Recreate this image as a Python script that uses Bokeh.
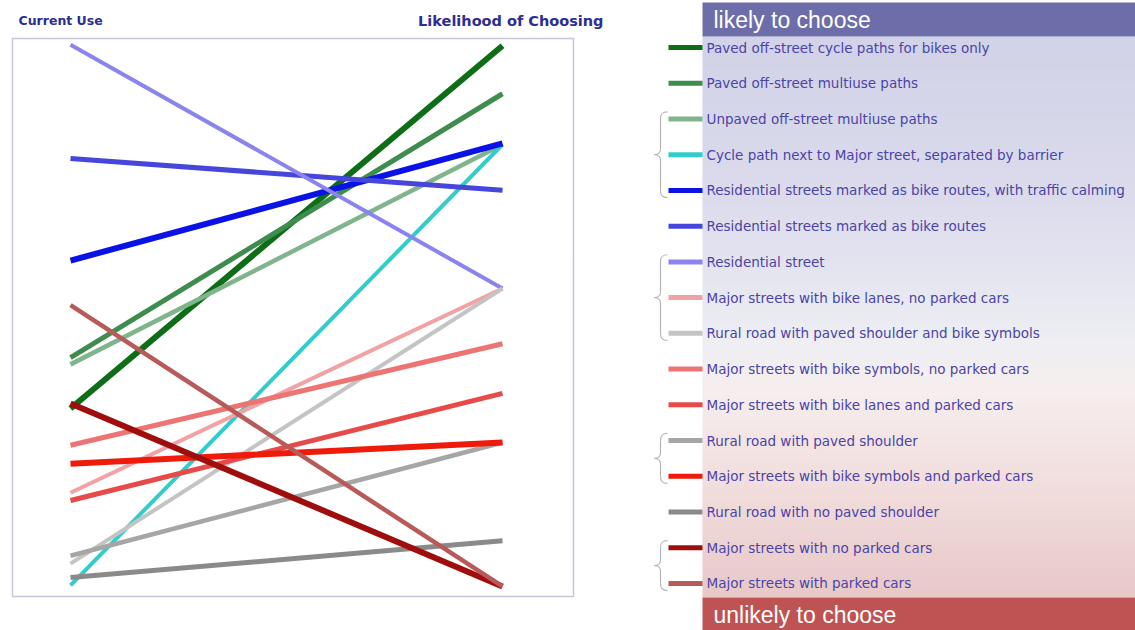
from bokeh.plotting import figure
from bokeh.models import Range1d, ColumnDataSource
from bokeh.layouts import row
from bokeh.embed import file_html
from bokeh.resources import INLINE
from bokeh.core.properties import value
import numpy as np

# ---------------- data ----------------
labels = [
    "Paved off-street cycle paths for bikes only",
    "Paved off-street multiuse paths",
    "Unpaved off-street multiuse paths",
    "Cycle path next to Major street, separated by barrier",
    "Residential streets marked as bike routes, with traffic calming",
    "Residential streets marked as bike routes",
    "Residential street",
    "Major streets with bike lanes, no parked cars",
    "Rural road with paved shoulder and bike symbols",
    "Major streets with bike symbols, no parked cars",
    "Major streets with bike lanes and parked cars",
    "Rural road with paved shoulder",
    "Major streets with bike symbols and parked cars",
    "Rural road with no paved shoulder",
    "Major streets with no parked cars",
    "Major streets with parked cars",
]
current_use = [33.7, 42.8, 41.6, 2.0, 60.2, 78.5, 98.9, 18.6,
               5.9, 27.1, 17.2, 7.3, 23.8, 3.4, 34.6, 52.2]
likelihood = [98.7, 90.1, 81.0, 81.0, 81.2, 72.8, 55.2, 55.2,
              55.2, 45.3, 36.4, 27.6, 27.6, 10.0, 1.8, 1.8]
colors = ["#0d6e17", "#3f8c4f", "#80b48c", "#33cccc", "#0a12e6", "#4646dc",
          "#8c84ee", "#f2a2a2", "#c4c4c4", "#ee7474", "#e84a4a", "#a6a6a6",
          "#ee1a0a", "#8a8a8a", "#a00d0d", "#b85a5a"]
widths = [6, 5, 4.5, 4, 6, 5, 4, 4, 4, 5, 5, 4.5, 6, 5, 6, 4.5]
groups = [(2, 4), (6, 8), (11, 12), (14, 15)]
axis_titles = ["Current Use", "Likelihood of Choosing"]
header_titles = ["likely to choose", "unlikely to choose"]

# ---------------- slope chart ----------------
W1, H = 640, 630
XPX = 432.0     # pixels per x unit (0 -> left column, 1 -> right column)
YPX = 5.58      # pixels per y unit
p1 = figure(width=W1, height=H, x_range=Range1d(-70 / XPX, (W1 - 70) / XPX),
            y_range=Range1d((596 - H) / YPX, 596 / YPX), toolbar_location=None,
            output_backend="svg", x_axis_location=None, y_axis_location=None,
            min_border=0)
p1.grid.visible = False
p1.outline_line_color = None
p1.background_fill_color = "white"
p1.border_fill_color = "white"

# chart box
p1.quad(left=[(12 - 70) / XPX], right=[(573 - 70) / XPX], bottom=[0], top=[100],
        fill_color=None, line_color="#c6c6d8", line_width=1.5)

src = ColumnDataSource(dict(
    xs=[[0, 1] for _ in labels],
    ys=[[c, l] for c, l in zip(current_use, likelihood)],
    color=colors, width=widths))
p1.multi_line(xs="xs", ys="ys", line_color="color", line_width="width",
              line_cap="butt", source=src)

p1.text(x=[(18 - 70) / XPX], y=[(596 - 20) / YPX], text=[axis_titles[0]],
        text_font=value("DejaVu Sans"), text_font_style="bold",
        text_font_size="12.5px", text_color="#2d2d96", text_baseline="middle",
        text_align="left")
p1.text(x=[(603 - 70) / XPX], y=[(596 - 20) / YPX], text=[axis_titles[1]],
        text_font=value("DejaVu Sans"), text_font_style="bold",
        text_font_size="14.5px", text_color="#2d2d96", text_baseline="middle",
        text_align="right")

# ---------------- legend panel ----------------
ROW0, ROWSTEP = 47.0, 35.73
W2 = 1135 - W1


def yi(py):
    return (py - ROW0) / ROWSTEP


p2 = figure(width=W2, height=H, x_range=Range1d(W1, W1 + W2),
            y_range=Range1d(yi(H), yi(0)), toolbar_location=None,
            output_backend="svg", x_axis_location=None, y_axis_location=None,
            min_border=0)
p2.grid.visible = False
p2.outline_line_color = None
p2.background_fill_color = "white"
p2.border_fill_color = "white"

# gradient background
stops_y = [36, 200, 340, 390, 500, 597]
stops_c = [(210, 210, 232), (220, 220, 237), (238, 238, 244), (247, 238, 238),
           (241, 219, 219), (233, 200, 200)]
ys = np.arange(36, 597, 3)
tops, bots, cols = [], [], []
for py in ys:
    r = np.interp(py + 1.5, stops_y, [c[0] for c in stops_c])
    g = np.interp(py + 1.5, stops_y, [c[1] for c in stops_c])
    b = np.interp(py + 1.5, stops_y, [c[2] for c in stops_c])
    tops.append(yi(py))
    bots.append(yi(min(py + 3.5, 597)))
    cols.append("#%02x%02x%02x" % (int(r), int(g), int(b)))
p2.quad(left=702, right=1135, top=tops, bottom=bots, fill_color=cols,
        line_color=None)

# header bars
p2.quad(left=[702, 702], right=[1135, 1135], top=[yi(2), yi(597)],
        bottom=[yi(36), yi(630)], fill_color=["#6d6daa", "#bf5252"], line_color=None)
p2.text(x=[713, 713], y=[yi(19.5), yi(614)], text=header_titles,
        text_font=value("Liberation Sans"), text_font_size="23px",
        text_color="white", text_baseline="middle")

# swatches and labels
idx = list(range(len(labels)))
p2.segment(x0=668, x1=702, y0=idx, y1=idx, line_color=colors, line_width=5)
p2.text(x=706, y=idx, text=labels, text_font=value("DejaVu Sans"),
        text_font_size="13.5px", text_color="#4a44a6", text_baseline="middle")

# braces
bx0, by0, bx1, by1, bcx0, bcy0, bcx1, bcy1 = [], [], [], [], [], [], [], []
lx0, ly0, lx1, ly1 = [], [], [], []
for a, b in groups:
    top, bot, mid = a - 0.2, b + 0.2, (a + b) / 2.0
    segs = [
        (667, top, 660, top + 0.2, 662, top, 660, top + 0.05),
        (660, mid - 0.15, 654, mid, 660, mid - 0.05, 657, mid),
        (654, mid, 660, mid + 0.15, 657, mid, 660, mid + 0.05),
        (660, bot - 0.2, 667, bot, 660, bot - 0.05, 662, bot),
    ]
    for s in segs:
        bx0.append(s[0]); by0.append(s[1]); bx1.append(s[2]); by1.append(s[3])
        bcx0.append(s[4]); bcy0.append(s[5]); bcx1.append(s[6]); bcy1.append(s[7])
    lx0 += [660, 660]; ly0 += [top + 0.2, mid + 0.15]
    lx1 += [660, 660]; ly1 += [mid - 0.15, bot - 0.2]
p2.bezier(x0=bx0, y0=by0, x1=bx1, y1=by1, cx0=bcx0, cy0=bcy0, cx1=bcx1,
          cy1=bcy1, line_color="#b4b4b4", line_width=1.2)
p2.segment(x0=lx0, y0=ly0, x1=lx1, y1=ly1, line_color="#b4b4b4", line_width=1.2)

layout = row(p1, p2)
open("out.html", "w").write(file_html(layout, INLINE))
